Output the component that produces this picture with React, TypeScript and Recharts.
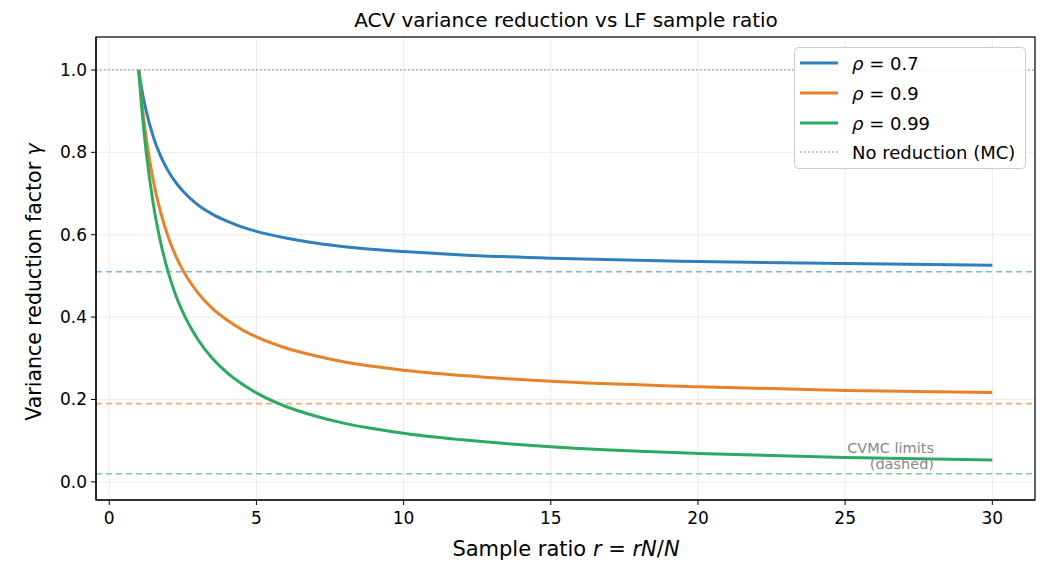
import React from 'react';
import { ComposedChart, Line, XAxis, YAxis, CartesianGrid, ReferenceLine } from 'recharts';

const ratios = [1, 1.1, 1.25, 1.5, 1.75, 2, 2.25, 2.5, 3, 3.5, 4, 4.5, 5, 6, 7, 8, 9, 10, 12, 15, 20, 25, 30];
const gamma07 = [1.0, 0.955, 0.902, 0.837, 0.79, 0.755, 0.728, 0.706, 0.673, 0.65, 0.633, 0.619, 0.608, 0.592, 0.58, 0.571, 0.564, 0.559, 0.551, 0.543, 0.535, 0.53, 0.526];
const gamma09 = [1.0, 0.926, 0.838, 0.73, 0.653, 0.595, 0.55, 0.514, 0.46, 0.421, 0.393, 0.37, 0.352, 0.325, 0.306, 0.291, 0.28, 0.271, 0.258, 0.244, 0.231, 0.222, 0.217];
const gamma099 = [1.0, 0.911, 0.804, 0.673, 0.58, 0.51, 0.455, 0.412, 0.347, 0.3, 0.265, 0.238, 0.216, 0.183, 0.16, 0.142, 0.129, 0.118, 0.102, 0.085, 0.069, 0.059, 0.053];
const cvmcLimits = [0.51, 0.19, 0.0199];
const seriesLabels = ['0.7', '0.9', '0.99'];
const xTicks = [0, 5, 10, 15, 20, 25, 30];
const yTicks = [0, 0.2, 0.4, 0.6, 0.8, 1.0];

const colors = ['#2f7fbd', '#e8822a', '#2caa62'];
const lightColors = ['#80b5e0', '#f4aa6c', '#74d39a'];
const FONT = '"DejaVu Sans", sans-serif';

const data = ratios.map((r, i) => ({ r, a: gamma07[i], b: gamma09[i], c: gamma099[i] }));
const keys = ['a', 'b', 'c'];

const XTick = (props: any) => {
  const { x, y, payload } = props;
  return (
    <text x={x} y={y + 17} textAnchor="middle" fontSize={17} fontFamily={FONT} fill="#000">{payload.value}</text>
  );
};
const YTick = (props: any) => {
  const { x, y, payload } = props;
  return (
    <text x={x - 2} y={y + 6} textAnchor="end" fontSize={17} fontFamily={FONT} fill="#000">{Number(payload.value).toFixed(1)}</text>
  );
};

export default function App() {
  return (
    <div style={{ position: 'absolute', left: 0, top: 0, width: 1045, height: 563, background: '#fff', fontFamily: FONT }}>
      <ComposedChart width={1045} height={563} data={data} margin={{ top: 37, right: 10, left: 0, bottom: 0 }}>
        <CartesianGrid stroke="#ebebeb" strokeWidth={1} />
        <XAxis
          type="number"
          dataKey="r"
          domain={[-0.45, 31.45]}
          ticks={xTicks}
          height={63}
          axisLine={{ stroke: '#000', strokeWidth: 1.2 }}
          tickLine={{ stroke: '#000' }}
          tickSize={5}
          tick={<XTick />}
          allowDataOverflow
        />
        <YAxis
          type="number"
          domain={[-0.044, 1.08]}
          ticks={yTicks}
          width={96}
          axisLine={{ stroke: '#000', strokeWidth: 1.2 }}
          tickLine={{ stroke: '#000' }}
          tickSize={5}
          tick={<YTick />}
          allowDataOverflow
        />
        <ReferenceLine y={1.0} stroke="#999" strokeWidth={1.3} strokeDasharray="1.5 2.5" />
        {cvmcLimits.map((v, i) => (
          <ReferenceLine key={i} y={v} stroke={lightColors[i]} strokeWidth={1.6} strokeDasharray="6 4" />
        ))}
        {keys.map((k, i) => (
          <Line key={k} dataKey={k} type="monotone" stroke={colors[i]} strokeWidth={3} dot={false} isAnimationActive={false} />
        ))}
      </ComposedChart>
      <svg width={1045} height={563} style={{ position: 'absolute', left: 0, top: 0, pointerEvents: 'none' }} fontFamily={FONT}>
        <rect x={96} y={37} width={939} height={463} fill="none" stroke="#000" strokeWidth={1.2} />
        <text x={566} y={27} textAnchor="middle" fontSize={20} fill="#000">ACV variance reduction vs LF sample ratio</text>
        <text x={566} y={556} textAnchor="middle" fontSize={21} fill="#000">
          Sample ratio <tspan fontStyle="italic">r</tspan> = <tspan fontStyle="italic">rN</tspan>/<tspan fontStyle="italic">N</tspan>
        </text>
        <text transform="translate(41,282) rotate(-90)" textAnchor="middle" fontSize={20.5} fill="#000">
          Variance reduction factor <tspan fontStyle="italic">γ</tspan>
        </text>
        <text x={934} y={453} textAnchor="end" fontSize={14.5} fill="#888">CVMC limits</text>
        <text x={934} y={469} textAnchor="end" fontSize={14.5} fill="#888">(dashed)</text>
        <rect x={794.5} y={47.5} width={231} height={121} rx={4} fill="#fff" fillOpacity={0.85} stroke="#ccc" />
        {seriesLabels.map((s, i) => (
          <g key={s}>
            <line x1={800} x2={838} y1={63 + i * 30} y2={63 + i * 30} stroke={colors[i]} strokeWidth={3} />
            <text x={852} y={70 + i * 30} fontSize={18} fill="#000">
              <tspan fontStyle="italic">ρ</tspan> = {s}
            </text>
          </g>
        ))}
        <line x1={800} x2={838} y1={152} y2={152} stroke="#999" strokeWidth={1.3} strokeDasharray="1.5 2.5" />
        <text x={852} y={159} fontSize={18} fill="#000">No reduction (MC)</text>
      </svg>
    </div>
  );
}
